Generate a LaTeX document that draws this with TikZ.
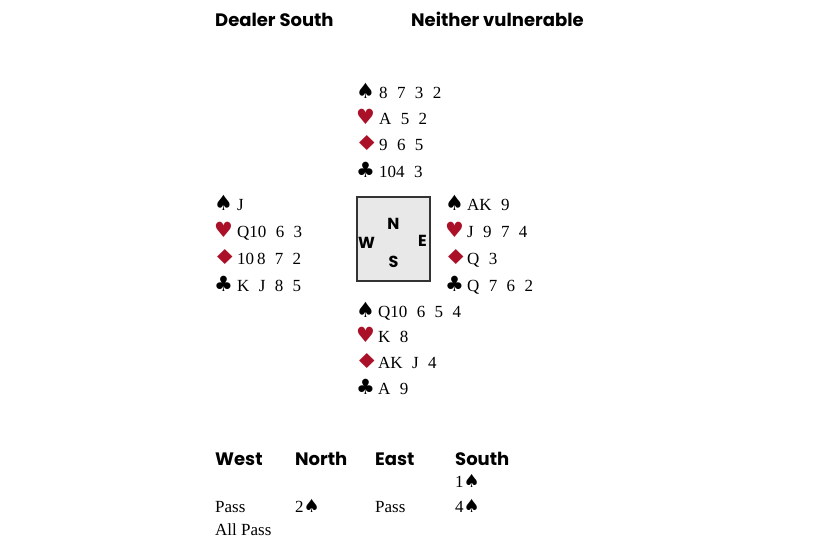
\documentclass[tikz,border=0pt]{standalone}
\usepackage{graphicx}
\usepackage{fontspec}
\setmainfont{Liberation Serif}
\newfontfamily\headfont{Poppins}
\newfontfamily\suitfont{DejaVu Sans}
\definecolor{suitred}{RGB}{170,16,40}
\newcommand{\dmd}{\kern-1.5pt\scalebox{1.3}[0.98]{♦}}
\newcommand{\bidspade}{{\suitfont\fontsize{18}{20}\selectfont ♠}}

\begin{document}
\begin{tikzpicture}[x=1pt,y=-1pt,
    rank/.style={anchor=base west,inner sep=0pt,font={\fontsize{17}{20}\selectfont\spaceskip=0.55em\relax}},
    suit/.style={anchor=base west,inner sep=0pt,font=\suitfont\fontsize{21}{22}\selectfont},
    head/.style={anchor=base west,inner sep=0pt,font=\headfont\bfseries\fontsize{18}{21}\selectfont},
    compass/.style={inner sep=0pt,font=\headfont\bfseries\fontsize{16}{18}\selectfont},
    bid/.style={anchor=base west,inner sep=0pt,font=\fontsize{17}{20}\selectfont}]
\useasboundingbox (0,0) rectangle (820,550);

\node[head] (dealer) at (215,26) {Dealer South};
\node[head] (vul) at (411,26) {Neither vulnerable};

% North
\foreach \s/\col/\r [count=\i] in {♠/black/8 7 3 2, ♥/suitred/A 5 2, \dmd/suitred/9 6 5, ♣/black/104 3}{
    \node[suit,text=\col] (ns\i) at (356,98+26.4*\i-26.4) {\s};
    \node[rank] (nr\i) at (379,98+26.4*\i-26.4) {\r};
}
% West
\foreach \s/\col/\r [count=\i] in {♠/black/ J, ♥/suitred/Q10 6 3, \dmd/suitred/10\,8 7 2, ♣/black/K J 8 5}{
    \node[suit,text=\col] (ws\i) at (214,210+27*\i-27) {\s};
    \node[rank] (wr\i) at (237,210+27*\i-27) {\r};
}
% East
\foreach \s/\col/\r [count=\i] in {♠/black/AK 9, ♥/suitred/ J 9 7 4, \dmd/suitred/Q 3, ♣/black/Q 7 6 2}{
    \node[suit,text=\col] (es\i) at (445,210+27*\i-27) {\s};
    \node[rank] (er\i) at (467,210+27*\i-27) {\r};
}
% South
\foreach \s/\col/\r [count=\i] in {♠/black/Q10 6 5 4, ♥/suitred/K 8, \dmd/suitred/AK J 4, ♣/black/A 9}{
    \node[suit,text=\col] (ss\i) at (356,317+25.8*\i-25.8) {\s};
    \node[rank] (sr\i) at (378,317+25.8*\i-25.8) {\r};
}

\node[draw=black!80,fill=black!9,line width=1.2pt,minimum width=73pt,minimum height=84pt,inner sep=0pt] (tbl) at (393.5,239) {};
\node[compass] (cN) at ([yshift=15pt]tbl.center) {N};
\node[compass] (cS) at ([yshift=-23pt]tbl.center) {S};
\node[compass] (cW) at ([xshift=-27pt,yshift=-4pt]tbl.center) {W};
\node[compass] (cE) at ([xshift=29pt,yshift=-2pt]tbl.center) {E};

% auction
\foreach \t/\x in {West/215,North/295,East/375,South/455}
    \node[head] (h\t) at (\x,465) {\t};
\node[bid] (b1) at (455,487) {1\bidspade};
\node[bid] (b2) at (215,512) {Pass};
\node[bid] (b3) at (295,512) {2\bidspade};
\node[bid] (b4) at (375,512) {Pass};
\node[bid] (b5) at (455,512) {4\bidspade};
\node[bid] (b6) at (215,535) {All Pass};
\end{tikzpicture}
\end{document}
